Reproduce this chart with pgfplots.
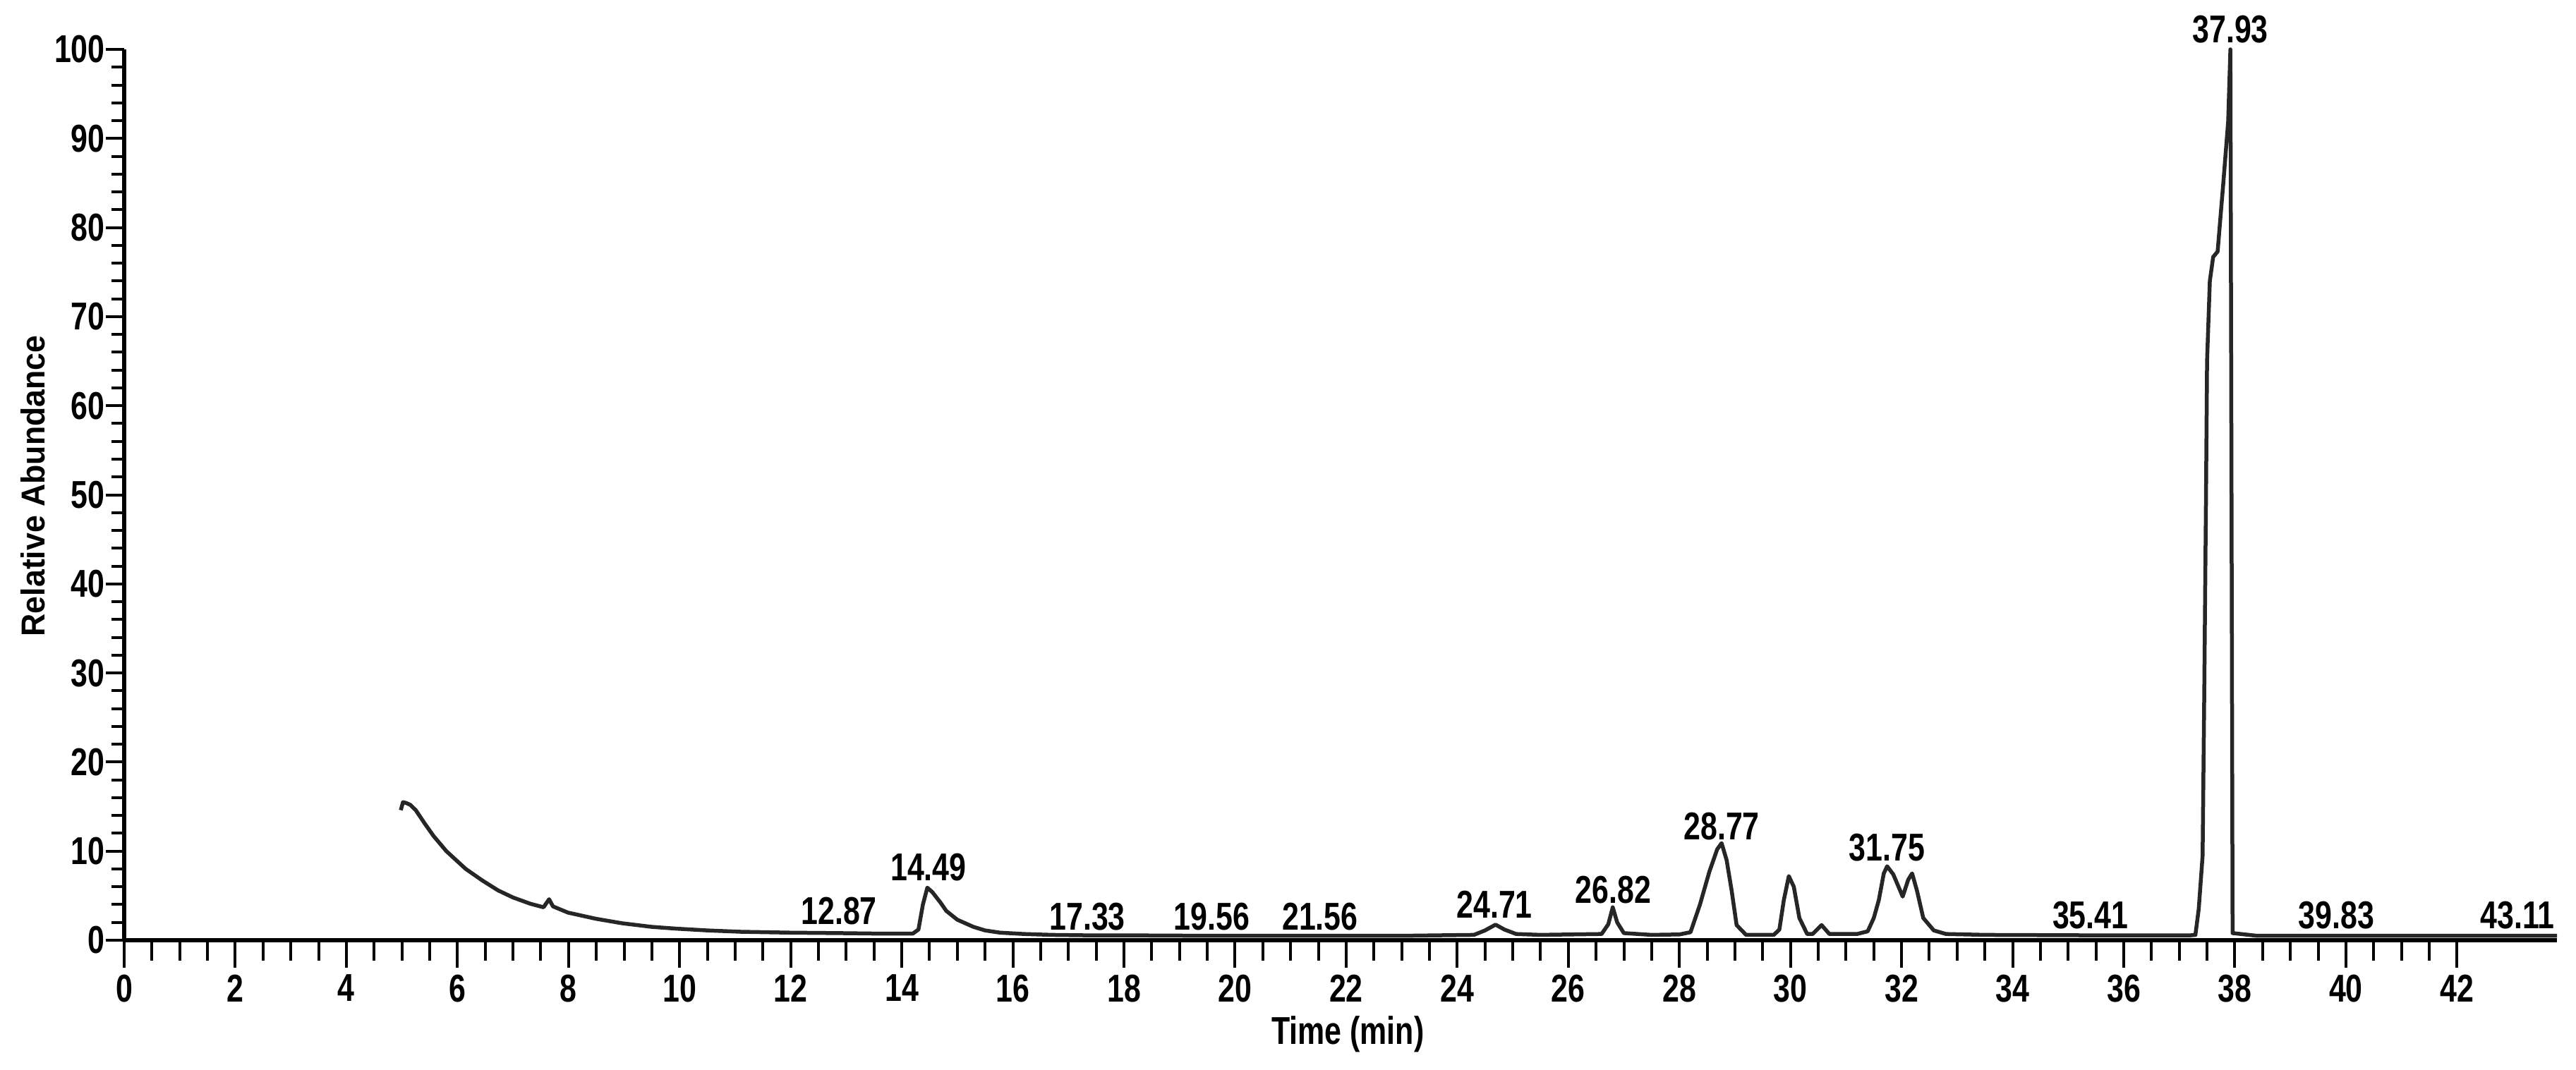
\documentclass[border=0pt]{standalone}
\usepackage{fontspec}
\setmainfont{Liberation Sans}[FakeStretch=0.78]
\newfontfamily\labfont{Liberation Sans}[FakeStretch=0.95]
\usepackage{pgfplots}
\pgfplotsset{compat=1.18}

% chromatogram trace
\pgfplotstableread{
t a
4.98 14.6
5.02 15.5
5.08 15.4
5.15 15.2
5.25 14.6
5.40 13.2
5.57 11.7
5.80 10.0
6.15 8.0
6.45 6.7
6.73 5.6
7.00 4.8
7.31 4.1
7.55 3.7
7.65 4.6
7.72 3.8
7.99 3.1
8.50 2.4
8.97 1.9
9.50 1.5
9.94 1.3
10.50 1.1
11.10 0.95
12.00 0.85
12.86 0.8
13.50 0.75
14.20 0.75
14.30 1.2
14.38 4.0
14.46 5.9
14.55 5.4
14.70 4.2
14.80 3.3
15.00 2.3
15.29 1.5
15.50 1.1
15.77 0.85
16.20 0.7
16.70 0.6
17.33 0.55
18.00 0.55
19.56 0.5
21.56 0.5
23.00 0.5
24.30 0.6
24.50 1.1
24.69 1.75
24.85 1.2
25.06 0.7
25.50 0.6
26.60 0.7
26.72 1.8
26.80 3.7
26.88 2.0
27.00 0.8
27.50 0.6
28.00 0.65
28.20 0.9
28.37 4.0
28.54 7.7
28.68 10.2
28.76 10.9
28.85 9.0
28.94 5.6
29.03 1.7
29.20 0.6
29.70 0.6
29.80 1.2
29.88 4.5
29.97 7.2
30.06 6.0
30.16 2.5
30.30 0.7
30.40 0.7
30.56 1.7
30.70 0.7
31.20 0.7
31.39 1.0
31.50 2.5
31.59 4.5
31.68 7.5
31.74 8.3
31.85 7.4
32.02 4.9
32.12 6.8
32.19 7.5
32.28 5.5
32.39 2.5
32.58 1.1
32.80 0.7
33.50 0.6
35.41 0.55
36.50 0.55
37.20 0.55
37.29 0.6
37.35 3.5
37.42 9.5
37.45 28
37.48 49
37.50 65
37.55 74
37.61 76.7
37.69 77.3
37.79 84.8
37.88 91.9
37.92 100
37.96 0.8
38.40 0.5
39.83 0.5
43.11 0.5
43.80 0.5
}\trace

\begin{document}
\begin{tikzpicture}
\begin{axis}[
    scale only axis,
    width=689.6pt, height=252.6pt,
    at={(0,0)}, anchor=south west,
    xmin=0, xmax=43.8, ymin=0, ymax=100,
    axis lines=left,
    axis line style={-, line width=1.1pt, black},
    clip=false,
    xtick={0,2,...,42},
    ytick={0,10,...,100},
    minor x tick num=3,
    minor y tick num=4,
    tick align=outside,
    xtick style={line width=0.8pt, black, /pgfplots/major tick length=7.7pt, /pgfplots/minor tick length=5.7pt},
    ytick style={line width=0.8pt, black, /pgfplots/major tick length=5.2pt, /pgfplots/minor tick length=3.6pt},
    /pgf/number format/assume math mode=true,
    ticklabel style={font=\bfseries\fontsize{11}{11}\selectfont, inner sep=1pt},
    xticklabel style={yshift=-4.3pt},
    xlabel={Time (min)},
    ylabel={Relative Abundance},
    xlabel style={font=\bfseries\fontsize{11}{11}\selectfont, at={(axis description cs:0.503,0)}, anchor=center, yshift=-26.6pt},
    ylabel style={font=\labfont\bfseries\fontsize{9.4}{9.4}\selectfont, at={(axis description cs:0,0.51)}, anchor=center, yshift=25.8pt},
]
\addplot[black!85, line width=1.1pt, line join=round] table[x=t, y=a] {\trace};

\begin{scope}[every node/.style={anchor=south, inner sep=0pt, font=\bfseries\fontsize{11}{11}\selectfont}]
\node at (axis cs:12.87,1.7) {12.87};
\node at (axis cs:14.48,6.6) {14.49};
\node at (axis cs:17.34,1.0) {17.33};
\node at (axis cs:19.58,1.0) {19.56};
\node at (axis cs:21.53,1.0) {21.56};
\node at (axis cs:24.67,2.4) {24.71};
\node at (axis cs:26.81,4.0) {26.82};
\node at (axis cs:28.76,11.2) {28.77};
\node at (axis cs:31.74,8.8) {31.75};
\node at (axis cs:35.40,1.2) {35.41};
\node at (axis cs:37.92,100.6) {37.93};
\node at (axis cs:39.83,1.2) {39.83};
\node at (axis cs:43.09,1.2) {43.11};
\end{scope}
\end{axis}
\pgfresetboundingbox
\path[use as bounding box] (-35.2pt,-36.6pt) rectangle (695pt,266.6pt);
\end{tikzpicture}
\end{document}
